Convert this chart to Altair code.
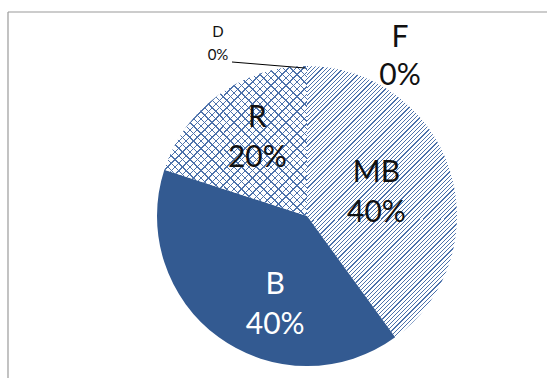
import altair as alt
import pandas as pd

# ---- data ----
categories = ["F", "MB", "B", "R", "D"]
values = [0, 40, 40, 20, 0]
pct_labels = ["0%", "40%", "40%", "20%", "0%"]

df = pd.DataFrame({
    "cat": categories,
    "value": values,
    "pct": pct_labels,
    "order": list(range(len(categories))),
})
df["label"] = df["cat"] + "\n" + df["pct"]

# ---- layout / style ----
CX, CY, RAD = 307, 216, 150
FONT = "Lato"
HATCH = "#4d72ab"
DARK = "#335a91"
CLEAR = "rgba(255,255,255,0)"


def stripes(color, bg, period, thick, w, h, direction="/"):
    """Linear gradient with hard stops -> hatch lines at 45 degrees
    inside a mark whose bounding box is w x h pixels."""
    L = w + h
    k = L / (w * w + h * h)
    a, b = k * w, k * h
    stops = []
    pos = 0.0
    while pos < L:
        o0 = pos / L
        o1 = min((pos + thick) / L, 1.0)
        o2 = min((pos + period) / L, 1.0)
        stops += [
            alt.GradientStop(color=color, offset=o0),
            alt.GradientStop(color=color, offset=o1),
            alt.GradientStop(color=bg, offset=o1),
            alt.GradientStop(color=bg, offset=o2),
        ]
        pos += period
    if direction == "/":
        return alt.LinearGradient(gradient="linear", stops=stops,
                                  x1=0, y1=0, x2=a, y2=b)
    return alt.LinearGradient(gradient="linear", stops=stops,
                              x1=0, y1=1, x2=a, y2=1 - b)


theta_scale = alt.Scale(domain=[0, 100])

base = alt.Chart(df).transform_window(
    end="sum(value)", sort=[alt.SortField("order")], frame=[None, 0]
).transform_calculate(
    start="datum.end - datum.value",
    mid="datum.end - datum.value / 2",
)

center = dict(x=alt.value(CX), y=alt.value(CY))


def arc_layer(cat, fill):
    return base.transform_filter(alt.datum.cat == cat).mark_arc(
        outerRadius=RAD, fill=fill, strokeWidth=0
    ).encode(
        theta=alt.Theta("start:Q", scale=theta_scale, stack=None),
        theta2="end:Q",
        **center,
    )


# bounding boxes of the slices (px) for the hatch gradients
mb_fill = stripes(HATCH, "#ffffff", 4.2, 1.2, 150, 271, "/")
r_fill1 = stripes(HATCH, "#ffffff", 7.4, 1.4, 143, 150, "/")
r_fill2 = stripes(HATCH, CLEAR, 7.4, 1.4, 143, 150, "\\")

arcs = [
    arc_layer("MB", mb_fill),
    arc_layer("B", DARK),
    arc_layer("R", r_fill1),
    arc_layer("R", r_fill2),
]


def text_layer(cat, radius, color="#111111", size=30, lh=40, dx=0, dy=0):
    return base.transform_filter(alt.datum.cat == cat).mark_text(
        font=FONT, fontSize=size, lineHeight=lh, lineBreak="\n",
        color=color, align="center", baseline="middle",
        dx=dx, dy=dy - lh / 2,
    ).encode(
        theta=alt.Theta("mid:Q", scale=theta_scale, stack=None),
        radius=alt.value(radius),
        text="label:N",
        **center,
    )


texts = [
    text_layer("MB", 73),
    text_layer("R", 93, dx=5, dy=-3),
    text_layer("B", 95, color="white", dx=24, dy=12),
    text_layer("F", 159, dx=93, lh=38),
    text_layer("D", 173, size=15, lh=23, dx=-89),
]

leader = alt.Chart(df).mark_rule(color="black", strokeWidth=1).encode(
    x=alt.value(232), x2=alt.value(305), y=alt.value(62), y2=alt.value(68)
).transform_filter(alt.datum.cat == "D")

frame_top = alt.Chart(df).mark_rule(color="#9a9a9a", strokeWidth=1.2).encode(
    x=alt.value(8), x2=alt.value(547), y=alt.value(12)
).transform_filter(alt.datum.cat == "D")
frame_left = alt.Chart(df).mark_rule(color="#9a9a9a", strokeWidth=1.2).encode(
    x=alt.value(8), y=alt.value(12), y2=alt.value(378)
).transform_filter(alt.datum.cat == "D")

chart = alt.layer(frame_top, frame_left, *arcs, leader, *texts).properties(
    width=547, height=378,
    autosize=alt.AutoSizeParams(type="none"),
    padding=0,
).configure_view(stroke=None)

chart.save("out.html", embed_options={"renderer": "svg", "actions": False})
